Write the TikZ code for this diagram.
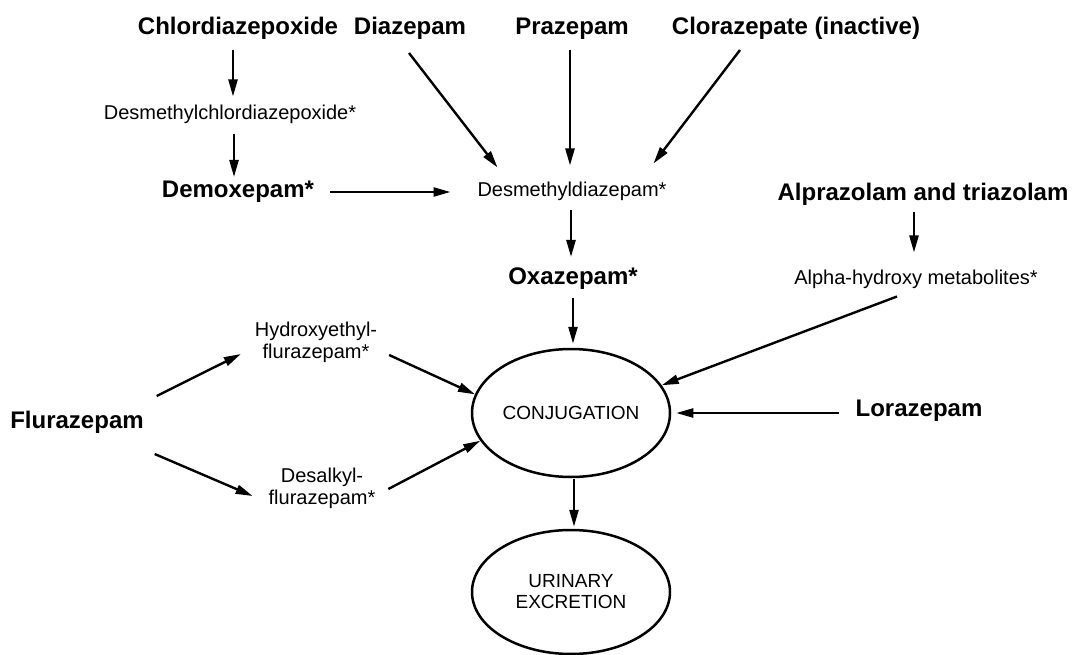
\documentclass[tikz,border=0pt]{standalone}
\usepackage{fontspec}
\setmainfont{Liberation Sans}
\usetikzlibrary{arrows.meta,shapes.geometric}
\tikzset{
  drug/.style={inner sep=0pt, outer sep=0pt, font=\fontsize{24}{26}\selectfont\bfseries,
    text height=17pt, text depth=5pt},
  meta/.style={inner sep=0pt, outer sep=0pt, font=\fontsize{20}{22}\selectfont,
    text height=14.5pt, text depth=4.5pt, align=center},
  stage/.style={ellipse, draw, line width=2.5pt, minimum width=198pt, inner sep=0pt,
    font=\fontsize{19}{21}\selectfont, align=center},
  arr/.style={draw, line width=2.4pt, -{Triangle[length=17pt,width=9pt]}},
}

\begin{document}
\begin{tikzpicture}[x=1pt,y=-1pt]
  \useasboundingbox (0,0) rectangle (1074,655);

  % parent drugs
  \node[drug] (chlor)  at (238,29) {Chlordiazepoxide};
  \node[drug] (diaz)   at (410,29) {Diazepam};
  \node[drug] (praz)   at (572,29) {Prazepam};
  \node[drug] (cloraz) at (796,29) {Clorazepate (inactive)};
  \node[drug] (demox)  at (238,192) {Demoxepam*};
  \node[drug] (oxaz)   at (573,278) {Oxazepam*};
  \node[drug] (alpraz) at (923,195) {Alprazolam and triazolam};
  \node[drug] (loraz)  at (919,410) {Lorazepam};
  \node[drug] (fluraz) at (77,422) {Flurazepam};

  % metabolites
  \node[meta] (dmchlor) at (230,115) {Desmethylchlordiazepoxide*};
  \node[meta] (dmdiaz)  at (572,192) {Desmethyldiazepam*};
  \node[meta] (alpha)   at (916,279) {Alpha-hydroxy metabolites*};
  \node[meta] (hydroxy) at (316,353) {Hydroxyethyl-\\flurazepam*};
  \node[meta] (desalk)  at (322,499) {Desalkyl-\\flurazepam*};

  % end stages
  \node[stage, minimum height=128pt] (conj) at (571,413) {CONJUGATION};
  \node[stage, minimum height=124pt] (urin) at (571,592) {URINARY\\EXCRETION};

  % chlordiazepoxide chain
  \draw[arr] ([shift={(-5,10)}]chlor.south) -- ([shift={(3,-9)}]dmchlor.north);
  \draw[arr] ([shift={(4,10)}]dmchlor.south) -- ([shift={(-4,-4)}]demox.north);
  \draw[arr] ([shift={(16,0)}]demox.east) -- ([shift={(-27,0)}]dmdiaz.west);

  % into desmethyldiazepam
  \draw[arr] ([shift={(-1,13)}]diaz.south) -- ([shift={(20,-15)}]dmdiaz.north west);
  \draw[arr] ([shift={(-2,10)}]praz.south) -- ([shift={(-2,-17)}]dmdiaz.north);
  \draw[arr] ([shift={(-56,10)}]cloraz.south) -- ([shift={(-13,-19)}]dmdiaz.north east);
  \draw[arr] ([shift={(-1,9)}]dmdiaz.south) -- ([shift={(-2,-10)}]oxaz.north);
  \draw[arr] ([shift={(0,9)}]oxaz.south) -- ([shift={(2,-4)}]conj.north);

  % alprazolam and lorazepam
  \draw[arr] ([shift={(-9,6)}]alpraz.south) -- ([shift={(-2,-17)}]alpha.north);
  \draw[arr] ([shift={(-19,8)}]alpha.south) -- (conj.17);
  \draw[arr] ([shift={(-17,3)}]loraz.west) -- ([shift={(5,0)}]conj.east);

  % flurazepam
  \draw[arr] ([shift={(13,-15)}]fluraz.north east) -- ([shift={(-14,1)}]hydroxy.west);
  \draw[arr] ([shift={(11,21)}]fluraz.south east) -- ([shift={(-16,-3)}]desalk.west);
  \draw[arr] ([shift={(12,2)}]hydroxy.east) -- (conj.169);
  \draw[arr] ([shift={(13,-10)}]desalk.east) -- (conj.197);

  \draw[arr] ([shift={(3,1)}]conj.south) -- ([shift={(3,-2)}]urin.north);
\end{tikzpicture}
\end{document}
